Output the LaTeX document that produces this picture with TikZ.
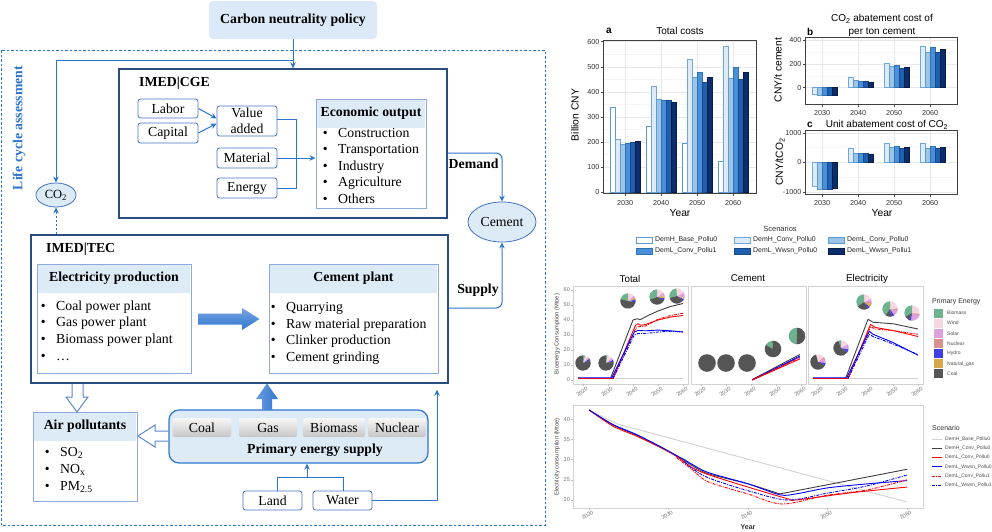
\documentclass[tikz,border=0pt]{standalone}
\usepackage{fontspec}
\setmainfont{Liberation Serif}
\setsansfont{Liberation Sans}
\usetikzlibrary{arrows.meta,calc,shapes.geometric}
\definecolor{navy}{HTML}{2B4C7E}
\definecolor{lblue}{HTML}{DDEBF7}
\definecolor{hdr}{HTML}{DCE9F8}
\definecolor{abl}{HTML}{2E75D0}
\definecolor{bbl}{HTML}{4472C4}
\definecolor{lbd}{HTML}{8EA9DB}
\definecolor{c0}{HTML}{FFFFFF}\definecolor{e0}{HTML}{5B9BD5}
\definecolor{c1}{HTML}{DEEBF7}\definecolor{e1}{HTML}{6FA8DC}
\definecolor{c2}{HTML}{9DC3E6}\definecolor{e2}{HTML}{5B9BD5}
\definecolor{c3}{HTML}{4A90D9}\definecolor{e3}{HTML}{2F75B5}
\definecolor{c4}{HTML}{1F5FAF}\definecolor{e4}{HTML}{174A8C}
\definecolor{c5}{HTML}{0B2D6B}\definecolor{e5}{HTML}{071E4A}
\definecolor{pbio}{HTML}{6DB38F}
\definecolor{pwind}{HTML}{F7D6E2}
\definecolor{psolar}{HTML}{DDA0DD}
\definecolor{pnuc}{HTML}{D9908F}
\definecolor{phydro}{HTML}{3F3FE6}
\definecolor{pgas}{HTML}{D4A84B}
\definecolor{pcoal}{HTML}{555555}
\newcommand\pieW[6]{\fill[fill=#6] (#1,#2) -- ++({-(#4)}:#3) arc[start angle={-(#4)}, end angle={-(#5)}, radius=#3] -- cycle;}
\newcommand\pieAll[4]{\foreach \pa/\pb/\pc in {#4} {\pieW{#1}{#2}{#3}{\pa}{\pb}{\pc}}}
\newcommand\myfs[1]{\fontsize{#1}{#1}\selectfont}
\begin{document}
\begin{tikzpicture}[x=1pt,y=-1pt,
  font=\fontsize{13.8}{16}\selectfont,
  every node/.style={inner sep=0pt},
  sbox/.style={draw=bbl, line width=0.8pt, rounded corners=2.5pt, fill=white},
  lbox/.style={draw=lbd, line width=1pt, fill=white},
  mbox/.style={draw=navy, line width=1.3pt},
  item/.style={anchor=west, text height=9.5pt, text depth=3pt},
  conn/.style={draw=abl, line width=1pt, -{Stealth[length=6pt,width=5.5pt]}},
  cline/.style={draw=abl, line width=1pt},
  ebox/.style={rounded corners=2pt, top color=gray!6, bottom color=gray!45, minimum height=19pt},
  elli/.style={ellipse, draw=bbl, line width=0.8pt, fill=lblue},
  hollow/.style={draw=bbl!85, line width=1pt, fill=white, line join=miter},
  bft/.style={font=\bfseries\fontsize{13.8}{16}\selectfont},
  tick/.style={font=\sffamily\myfs{7.2}, text=black!80},
  axl/.style={font=\sffamily\myfs{10.3}},
  gtick/.style={font=\sffamily\myfs{5.5}, text=black!55},
  lgray/.style={gray!35, line width=0.9pt, line join=round},
  lblk/.style={black!75, line width=0.9pt, line join=round},
  lred/.style={red, line width=0.9pt, line join=round},
  lblu/.style={blue, line width=0.9pt, line join=round},
  lredd/.style={lred, dash pattern=on 3pt off 1.2pt on 1pt off 1.2pt},
  lblud/.style={lblu, dash pattern=on 3pt off 1.2pt on 1pt off 1.2pt},
  ]
\useasboundingbox (0,0) rectangle (992,531);
\fill[white] (0,0) rectangle (992,531);

%================ LEFT DIAGRAM =================
\draw[abl, line width=1pt, dash pattern=on 2.5pt off 2pt] (1.5,50) rectangle (545,525);
\node[rotate=90, text=abl, bft] (lca) at (19,128) {Life cycle assessment};

\node[fill=hdr, rounded corners=4pt, minimum width=168pt, minimum height=38pt, bft] (pol) at (293,20) {Carbon neutrality policy};

% CGE
\node[mbox, minimum width=328pt, minimum height=149pt] (cge) at (283,143.5) {};
\node[anchor=west, bft] (cget) at (139,83) {IMED|CGE};
\node[sbox, minimum width=60pt, minimum height=19pt] (lab) at (168,108.5) {Labor};
\node[sbox, minimum width=60pt, minimum height=20pt] (cap) at (168,133) {Capital};
\node[sbox, minimum width=60pt, minimum height=30pt, align=center, font=\fontsize{13.8}{15.5}\selectfont] (va) at (247,121) {Value\\added};
\node[sbox, minimum width=60pt, minimum height=20pt] (mat) at (247,158) {Material};
\node[sbox, minimum width=60pt, minimum height=20pt] (ene) at (247,188) {Energy};
\node[lbox, minimum width=110pt, minimum height=109pt] (eco) at (371,153.5) {};
\fill[lblue] ($(eco.north west)+(1.5,1.5)$) rectangle ($(eco.north east)+(-1.5,29)$);
\node[bft] (ecot) at (371,113.5) {Economic output};
\foreach \tx [count=\i] in {Construction,Transportation,Industry,Agriculture,Others}
  \node[item] (eco\i) at (322.6,{117.5+16.5*\i}) {\makebox[15.4pt][l]{\textbullet}\tx};

\draw[conn] (lab.east) -- ($(va.west)+(0,-2.5)$);
\draw[conn] (cap.east) -- ($(va.west)+(0,2.5)$);
\draw[cline] ($(va.east)+(0,-2)$) -- (296,119) -- (296,188) -- (ene.east);
\draw[conn] (mat.east) -- (mat.east -| eco.west);

% Policy connectors
\draw[conn] (pol.south) -- (pol.south |- cge.north);
\coordinate (pj) at ($(pol.south)+(0,21)$);
\node[elli, minimum width=40pt, minimum height=24pt, font=\fontsize{12.5}{14}\selectfont] (co2) at (56,195) {CO\textsubscript{2}};
\draw[conn] (pj) -| (co2.north);

% Cement
\node[elli, minimum width=68pt, minimum height=40pt] (cem) at (502,222) {Cement};
\coordinate (dm) at ($(cge.east)+(0,9.5)$);
\draw[conn, rounded corners=6pt] (dm) -| (cem.north);
\node[anchor=west, bft] (dml) at (448.5,164) {Demand};

% TEC
\node[mbox, minimum width=417pt, minimum height=148pt] (tec) at (239.5,309) {};
\node[anchor=west, bft] (tect) at (46,249) {IMED|TEC};
\coordinate (sp) at ($(tec.east)+(0,-1)$);
\draw[conn, rounded corners=6pt] (sp) -| (cem.south);
\node[bft] (spl) at (478,290) {Supply};
\draw[conn, dash pattern=on 2pt off 2pt] (co2.south |- tec.north) -- (co2.south);

\node[lbox, minimum width=154pt, minimum height=109pt] (elp) at (114,318.5) {};
\fill[lblue] ($(elp.north west)+(1.5,1.5)$) rectangle ($(elp.north east)+(-1.5,29)$);
\node[bft] (elpt) at (114,278.5) {Electricity production};
\foreach \tx [count=\i] in {Coal power plant,Gas power plant,Biomass power plant,{\ldots}}
  \node[item] (el\i) at (40.6,{290+16.8*\i}) {\makebox[15.4pt][l]{\textbullet}\tx};

\node[lbox, minimum width=169pt, minimum height=109pt] (cpl) at (353.5,318.5) {};
\fill[lblue] ($(cpl.north west)+(1.5,1.5)$) rectangle ($(cpl.north east)+(-1.5,29)$);
\node[bft] (cplt) at (353.5,278.5) {Cement plant};
\foreach \tx [count=\i] in {Quarrying,Raw material preparation,Clinker production,Cement grinding}
  \node[item] (cp\i) at (270.6,{292+16.5*\i}) {\makebox[15.4pt][l]{\textbullet}\tx};

% big arrow electricity -> cement plant
\shade[top color=abl!65, bottom color=abl] (198,313.5) -- (242,313.5) -- (242,308) -- (259.5,319) -- (242,330) -- (242,324.5) -- (198,324.5) -- cycle;

% Air pollutants
\node[lbox, minimum width=104pt, minimum height=89pt] (air) at (85,456.5) {};
\fill[lblue] ($(air.north west)+(1.5,1.5)$) rectangle ($(air.north east)+(-1.5,29)$);
\node[bft] (airt) at (85,426.5) {Air pollutants};
\foreach \tx [count=\i] in {SO\textsubscript{2},NO\textsubscript{x},PM\textsubscript{2.5}}
  \node[item] (ai\i) at (44.6,{436+17*\i}) {\makebox[15.4pt][l]{\textbullet}\tx};

% hollow arrows
\draw[hollow] (72,384) -- (72,397) -- (66,397) -- (77,412) -- (88,397) -- (83,397) -- (83,384);
\draw[hollow] (168,431) -- (155,431) -- (155,425) -- (138,436) -- (155,447) -- (155,441) -- (168,441);

% Primary energy supply
\node[draw=abl, line width=1.2pt, fill=lblue, rounded corners=10pt, minimum width=259pt, minimum height=53pt] (pes) at (298.5,436.5) {};
\node[ebox, minimum width=58pt] (coal) at (202,427.5) {Coal};
\node[ebox, minimum width=58pt] (gas) at (268,427.5) {Gas};
\node[ebox, minimum width=62pt] (bio) at (334,427.5) {Biomass};
\node[ebox, minimum width=58pt] (nuc) at (397,427.5) {Nuclear};
\node[bft] (pest) at (315,450) {Primary energy supply};
\shade[left color=abl!70, right color=abl] (262,410) -- (262,399) -- (256,399) -- (267,383.5) -- (278,399) -- (272,399) -- (272,410) -- cycle;

% Land / Water
\node[sbox, minimum width=59pt, minimum height=19pt] (land) at (272.5,500.5) {Land};
\node[sbox, minimum width=59pt, minimum height=19pt] (water) at (342.5,500.5) {Water};
\coordinate (lw) at (307,477);
\draw[cline] ($(land.north)+(4.5,0)$) |- (lw) -| ($(water.north)+(0.5,0)$);
\draw[conn] (lw) -- (lw |- pes.south);
\draw[conn] (water.east) -| ($(tec.south)+(197.5,6)$);

%================ CHART a =================
\foreach \v in {50,150,...,550} \draw[gray!8, line width=0.4pt] (603,{192.3-0.251*\v}) -- (756,{192.3-0.251*\v});
\foreach \v in {0,100,...,600} {
  \draw[gray!18, line width=0.5pt] (603,{192.3-0.251*\v}) -- (756,{192.3-0.251*\v});
  \draw[black!70, line width=0.5pt] (603,{192.3-0.251*\v}) -- (600.5,{192.3-0.251*\v});
  \node[anchor=east, tick] (ya\v) at (599.5,{192.3-0.251*\v}) {\v};
}
\foreach \g/\gx in {2030/625,2040/661,2050/697,2060/733} {
  \draw[gray!18, line width=0.5pt] (\gx,40) -- (\gx,193);
  \draw[black!70, line width=0.5pt] (\gx,193) -- (\gx,195.5);
  \node[tick] (xa\g) at (\gx,203) {\g};
}
\foreach \gx/\vals in {625/{340,212,193,195,200,202},661/{263,422,370,366,366,360},697/{195,530,458,478,440,460},733/{123,580,456,500,450,478}} {
  \foreach \v [count=\j from 0] in \vals
    \draw[fill=c\j, draw=e\j, line width=0.5pt] ({\gx-15+5*\j},192.3) rectangle ++(5,{-0.251*\v});
}
\draw[black!75, line width=0.6pt] (603,40) rectangle (756,193);
\node[anchor=west, font=\sffamily\bfseries\myfs{10}] (ta) at (606,31) {a};
\node[font=\sffamily\myfs{10}] (tta) at (680,31) {Total costs};
\node[rotate=90, axl] (yla) at (575,115) {Billion CNY};
\node[axl] (xla) at (680,213) {Year};

%================ CHART b =================
\foreach \v in {100,300} \draw[gray!8, line width=0.4pt] (805,{87.7-0.119*\v}) -- (957,{87.7-0.119*\v});
\foreach \v in {0,200,400} {
  \draw[gray!18, line width=0.5pt] (805,{87.7-0.119*\v}) -- (957,{87.7-0.119*\v});
  \draw[black!70, line width=0.5pt] (805,{87.7-0.119*\v}) -- (802.5,{87.7-0.119*\v});
  \node[anchor=east, tick] (yb\v) at (801.5,{87.7-0.119*\v}) {\v};
}
\foreach \g/\gx in {2030/822,2040/858,2050/894,2060/930} {
  \draw[gray!18, line width=0.5pt] (\gx,37) -- (\gx,104);
  \draw[black!70, line width=0.5pt] (\gx,104) -- (\gx,106.5);
  \node[tick] (xb\g) at (\gx,113) {\g};
}
\foreach \gx/\vals in {822/{-55,-60,-60,-60,-60},858/{85,60,55,55,50},894/{205,178,185,165,175},930/{350,300,340,295,320}} {
  \foreach \v [count=\j from 1] in \vals
    \draw[fill=c\j, draw=e\j, line width=0.5pt] ({\gx-15+5*\j},87.7) rectangle ++(5,{-0.119*\v});
}
\draw[black!75, line width=0.6pt] (805,37) rectangle (957,104);
\node[anchor=west, font=\sffamily\bfseries\myfs{10}] (tb) at (807,32) {b};
\node[font=\sffamily\myfs{10}] (ttb1) at (882,19) {CO\textsubscript{2} abatement cost of};
\node[font=\sffamily\myfs{10}] (ttb2) at (882,32) {per ton cement};
\node[rotate=90, axl] (ylb) at (778,70) {CNY/t cement};

%================ CHART c =================
\foreach \v in {-500,500} \draw[gray!8, line width=0.4pt] (805,{162.3-0.0295*\v}) -- (957,{162.3-0.0295*\v});
\foreach \v in {-1000,0,1000} {
  \draw[gray!18, line width=0.5pt] (805,{162.3-0.0295*\v}) -- (957,{162.3-0.0295*\v});
  \draw[black!70, line width=0.5pt] (805,{162.3-0.0295*\v}) -- (802.5,{162.3-0.0295*\v});
  \node[anchor=east, tick] (yc\v) at (801.5,{162.3-0.0295*\v}) {\v};
}
\foreach \g/\gx in {2030/822,2040/858,2050/894,2060/930} {
  \draw[gray!18, line width=0.5pt] (\gx,130) -- (\gx,194);
  \draw[black!70, line width=0.5pt] (\gx,194) -- (\gx,196.5);
  \node[tick] (xc\g) at (\gx,203) {\g};
}
\foreach \gx/\vals in {822/{-820,-930,-920,-900,-880},858/{470,320,300,300,280},894/{650,520,560,480,510},930/{660,470,560,470,510}} {
  \foreach \v [count=\j from 1] in \vals
    \draw[fill=c\j, draw=e\j, line width=0.5pt] ({\gx-15+5*\j},162.3) rectangle ++(5,{-0.0295*\v});
}
\draw[black!75, line width=0.6pt] (805,130) rectangle (957,194);
\node[anchor=west, font=\sffamily\bfseries\myfs{10}] (tc) at (807,125) {c};
\node[font=\sffamily\myfs{10}] (ttc) at (887,125) {Unit abatement cost of CO\textsubscript{2}};
\node[rotate=90, axl] (ylc) at (780,162) {CNY/tCO\textsubscript{2}};
\node[axl] (xlc) at (882,213) {Year};

% legend
\node[font=\sffamily\myfs{7.5}, text=black!80] (sct) at (780,229) {Scenarios};
\foreach \n/\sx/\sy/\k in {DemH\_Base\_Pollu0/636/240/0,DemH\_Conv\_Pollu0/734/240/1,DemL\_Conv\_Pollu0/828/240/2,DemL\_Conv\_Pollu1/636/251/3,DemL\_Wwsn\_Pollu0/734/251/4,DemL\_Wwsn\_Pollu1/828/251/5} {
  \draw[fill=c\k, draw=e\k, line width=0.5pt] (\sx,{\sy-3}) rectangle ++(16,6);
  \node[anchor=west, font=\sffamily\myfs{6.9}, text=black!85] (lg\k) at ({\sx+19},\sy) {\n};
}

%================ BIOENERGY PANELS =================
\foreach \px/\tt/\tcx [count=\k] in {573/Total/630,691/Cement/748,808/Electricity/867} {
  \draw[gray!35, line width=1pt] (\px,286) rectangle ({\px+115.5},384);
  \node[font=\sffamily\myfs{9.8}] (pt\k) at (\tcx,278.5) {\tt};
  \foreach \yr [count=\m from 0] in {2020,2030,2040,2050,2060} {
    \draw[gray!50, line width=0.5pt] ({\px+10+25*\m},384) -- ({\px+10+25*\m},386);
    \node[gtick, rotate=35, anchor=north east] (px\k\m) at ({\px+13+25*\m},386.5) {\yr};
  }
}
\foreach \v in {0,10,...,60} {
  \draw[gray!50, line width=0.5pt] (571,{380-1.5*\v}) -- (573,{380-1.5*\v});
  \node[gtick, anchor=east] (pyt\v) at (570,{380-1.5*\v}) {\v};
}
\node[rotate=90, font=\sffamily\myfs{5.8}, text=black!75] (pyl) at (557,334) {Bioenergy Consumption (Mtoe)};

\begin{scope}[shift={(583,380)}, xscale=2.5, yscale=-1.5]
\draw[lgray] (-2,0.8) -- (40,0.8);
\draw[lblk] (-2,1) -- (11,1) -- (20,40) -- (21.5,40.8) -- (23,40.3) -- (26,43) -- (30,46) -- (35,49) -- (40,51);
\draw[lredd] (12,1) -- (21,34) -- (22,35.5) -- (25,36) -- (30,40.5) -- (35,43) -- (40,44.5);
\draw[lred] (-2,1) -- (12,1) -- (21,36.5) -- (22,37.5) -- (23,36.5) -- (25,37) -- (30,40) -- (35,42) -- (40,43);
\draw[lblud] (12,1) -- (20.5,30) -- (22,31) -- (25,31) -- (30,32) -- (35,32.5) -- (40,32);
\draw[lblu] (-2,1.5) -- (11.5,1.5) -- (20.5,32) -- (22,33) -- (25,32.8) -- (30,33.3) -- (35,32.8) -- (40,32);
\end{scope}
\begin{scope}[shift={(701,380)}, xscale=2.5, yscale=-1.5]
\draw[lblk] (20.5,0.3) -- (39.5,17);
\draw[lblud] (20.5,0) -- (39.5,16);
\draw[lblu] (20.5,0.2) -- (39.5,15.5);
\draw[lredd] (20.5,0) -- (39.5,14.8);
\draw[lred] (20.5,0) -- (39.5,14);
\end{scope}
\begin{scope}[shift={(818,380)}, xscale=2.5, yscale=-1.5]
\draw[lgray] (-2,0.8) -- (40,0.8);
\draw[lblk] (-2,1) -- (11,1) -- (20,40.5) -- (22,38.5) -- (30,37.5) -- (40,34);
\draw[lredd] (12,1) -- (21,35.5) -- (23,34) -- (30,33) -- (40,30.5);
\draw[lred] (-2,1) -- (12,1) -- (21,37) -- (23,35) -- (30,33) -- (40,29);
\draw[lblud] (12,1) -- (20.5,30.5) -- (22,29) -- (30,24) -- (40,17);
\draw[lblu] (-2,1.5) -- (11.5,1.5) -- (20.5,32.5) -- (22,30.5) -- (30,25) -- (40,16.5);
\end{scope}

% pies
\pieAll{583}{363}{7.7}{20/35/phydro,35/50/psolar,50/75/pwind,75/90/pbio,90/380/pcoal}
\pieAll{606}{363}{7.7}{10/25/phydro,25/45/psolar,45/80/pwind,80/90/pbio,90/370/pcoal}
\pieAll{628}{301}{7.7}{-10/10/phydro,10/20/pgas,20/30/pnuc,30/45/psolar,45/90/pwind,90/165/pbio,165/350/pcoal}
\pieAll{657}{297}{7.7}{-25/-10/phydro,-10/5/pgas,5/15/pnuc,15/35/psolar,35/90/pwind,90/200/pbio,200/335/pcoal}
\pieAll{677}{296}{7.7}{-40/-25/phydro,-25/-15/pgas,-15/25/psolar,25/95/pwind,95/195/pbio,195/320/pcoal}
\fill[pcoal] (707,363) circle[radius=8.8];
\fill[pcoal] (726,363) circle[radius=8.8];
\fill[pcoal] (747,363) circle[radius=8.8];
\pieAll{773}{349}{8.3}{95/150/pbio,150/455/pcoal}
\pieAll{797}{336}{8.3}{90/265/pbio,265/450/pcoal}
\pieAll{818}{362}{7.7}{-25/-5/phydro,-5/25/psolar,25/40/pnuc,40/105/pwind,105/335/pcoal}
\pieAll{841}{348}{7.7}{-35/-10/phydro,-10/30/psolar,30/90/pwind,90/110/pbio,110/325/pcoal}
\pieAll{864}{302}{7.7}{-60/-40/phydro,-40/-15/pgas,-15/0/pnuc,0/25/psolar,25/90/pwind,90/215/pbio,215/300/pcoal}
\pieAll{890}{309}{7.7}{-80/-55/phydro,-55/-10/psolar,-10/5/pnuc,5/90/pwind,90/235/pbio,235/280/pcoal}
\pieAll{912}{313}{7.7}{-115/-95/phydro,-95/-20/psolar,-20/-5/pnuc,-5/90/pwind,90/210/pbio,210/245/pcoal}

% primary energy legend
\node[anchor=west, font=\sffamily\myfs{7}, text=black!80] (pel) at (932,302) {Primary Energy};
\foreach \n/\cl [count=\k from 0] in {Biomass/pbio,Wind/pwind,Solar/psolar,Nuclear/pnuc,Hydro/phydro,Natural\_gas/pgas,Coal/pcoal} {
  \fill[fill=\cl] (934,{308.5+10.15*\k}) rectangle ++(9,9);
  \node[anchor=west, font=\sffamily\myfs{5}, text=black!70] (pe\k) at (947,{313+10.15*\k}) {\n};
}

%================ ELECTRICITY CONSUMPTION =================
\draw[gray!35, line width=1pt] (573,405) rectangle (923,508);
\foreach \v in {20,25,30,35,40} {
  \draw[gray!50, line width=0.5pt] (571,{500-4.04*(\v-20)}) -- (573,{500-4.04*(\v-20)});
  \node[gtick, anchor=east] (eyt\v) at (570,{500-4.04*(\v-20)}) {\v};
}
\foreach \yr [count=\m from 0] in {2020,2030,2040,2050,2060} {
  \draw[gray!50, line width=0.5pt] ({589+79.5*\m},508) -- ({589+79.5*\m},510);
  \node[gtick, rotate=30, anchor=north east] (ext\m) at ({592+79.5*\m},510) {\yr};
}
\node[font=\sffamily\bfseries\myfs{7}, text=black!80] (exl) at (748,527) {Year};
\node[rotate=90, font=\sffamily\myfs{5.8}, text=black!75] (eyl) at (557,457) {Electricity consumption (Mtoe)};
\begin{scope}[shift={(589,500)}, xscale=7.95, yscale=-4.04]
\draw[lgray] (0,22.3) -- (3.6,18.8) -- (40,-0.5);
\draw[lblk] plot[smooth] coordinates {(0,22.3) (3,18.6) (6,16) (9,13) (11,11) (13,8.5) (15,6.5) (20,4) (24,1.5)};
\draw[lblk] (24,1.5) -- (40,7.6);
\draw[lred] plot[smooth] coordinates {(0,22.3) (3,18.3) (6,15.8) (9,13) (11,10.8) (13,8) (15,6.3) (20,3.2) (25,0.3) (26,0) (33,1.8) (40,3.2)};
\draw[lblu] plot[smooth] coordinates {(0,22.3) (3,18.7) (6,16.2) (9,13.2) (11,11) (12,10) (13,8.8) (15,6.8) (20,4) (24,1.3) (26,1.5) (30,3) (35,4) (40,4.8)};
\draw[lredd] plot[smooth] coordinates {(11,10.5) (12,9) (13,7.5) (15,4.5) (20,1.5) (24.3,-1) (30,1.2) (35,2.5) (40,5)};
\draw[lblud] plot[smooth] coordinates {(12,9.5) (13,7.8) (15,5.5) (20,2.3) (25,0) (30,1.7) (35,3.5) (40,6.2)};
\end{scope}
\node[anchor=west, font=\sffamily\myfs{7}, text=black!80] (scl) at (932,428) {Scenario};
\draw[lgray] (932,439) -- (942,439);
\draw[lblk] (932,448.3) -- (942,448.3);
\draw[lred] (932,457.6) -- (942,457.6);
\draw[lblu] (932,466.9) -- (942,466.9);
\draw[lredd] (932,476.2) -- (942,476.2);
\draw[lblud] (932,485.5) -- (942,485.5);
\foreach \n [count=\k from 0] in {DemH\_Base\_Pollu0,DemH\_Conv\_Pollu0,DemL\_Conv\_Pollu0,DemL\_Wwsn\_Pollu0,DemL\_Conv\_Pollu1,DemL\_Wwsn\_Pollu1}
  \node[anchor=west, font=\sffamily\myfs{5}, text=black!70] (sl\k) at (945,{439+9.3*\k}) {\n};
\end{tikzpicture}
\end{document}
